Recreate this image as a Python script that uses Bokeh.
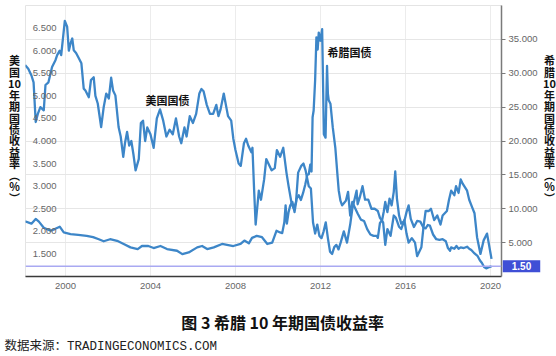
from bokeh.plotting import figure
from bokeh.models import (LinearAxis, Range1d, FixedTicker, NumeralTickFormatter,
                          Span, Label, Grid)
from bokeh.embed import file_html
from bokeh.resources import INLINE

# ---------------- data ----------------
us_t = [1998.10, 1998.25, 1998.40, 1998.50, 1998.60, 1998.70, 1998.82, 1998.98, 1999.06, 1999.20,
        1999.37, 1999.53, 1999.61, 1999.73, 1999.80, 1999.97, 2000.08, 2000.16, 2000.24, 2000.32,
        2000.39, 2000.50, 2000.63, 2000.75, 2000.86, 2000.94, 2001.10, 2001.20, 2001.33, 2001.41,
        2001.52, 2001.68, 2001.80, 2001.92, 2002.04, 2002.15, 2002.24, 2002.35, 2002.50, 2002.60,
        2002.72, 2002.80, 2002.90, 2003.00, 2003.10, 2003.20, 2003.30, 2003.45, 2003.55, 2003.65,
        2003.75, 2003.85, 2004.00, 2004.15, 2004.30, 2004.45, 2004.60, 2004.75, 2004.90, 2005.05,
        2005.20, 2005.35, 2005.45, 2005.60, 2005.70, 2005.85, 2006.00, 2006.15, 2006.30, 2006.40,
        2006.50, 2006.65, 2006.80, 2006.95, 2007.10, 2007.20, 2007.30, 2007.45, 2007.55, 2007.65,
        2007.80, 2007.90, 2008.00, 2008.15, 2008.25, 2008.40, 2008.50, 2008.60, 2008.75, 2008.80,
        2008.88, 2008.95, 2009.00, 2009.10, 2009.20, 2009.35, 2009.45, 2009.55, 2009.70, 2009.85,
        2009.95, 2010.10, 2010.25, 2010.40, 2010.50, 2010.65, 2010.75, 2010.85, 2010.95, 2011.10,
        2011.20, 2011.30, 2011.45, 2011.55, 2011.65, 2011.75, 2011.85, 2011.95, 2012.05, 2012.15,
        2012.25, 2012.35, 2012.45, 2012.55, 2012.65, 2012.75, 2012.85, 2012.95, 2013.10, 2013.25,
        2013.40, 2013.50, 2013.60, 2013.70, 2013.75, 2013.85, 2013.98, 2014.10, 2014.25, 2014.40,
        2014.55, 2014.70, 2014.80, 2014.95, 2015.05, 2015.15, 2015.30, 2015.45, 2015.55, 2015.70,
        2015.80, 2015.95, 2016.05, 2016.15, 2016.30, 2016.45, 2016.55, 2016.65, 2016.75, 2016.85,
        2016.95, 2017.10, 2017.20, 2017.35, 2017.50, 2017.65, 2017.75, 2017.85, 2017.95, 2018.05,
        2018.15, 2018.30, 2018.38, 2018.50, 2018.60, 2018.70, 2018.90, 2019.00, 2019.14, 2019.25,
        2019.37, 2019.53, 2019.68, 2019.84, 2020.05]
us_v = [5.68, 5.60, 5.45, 5.30, 4.42, 4.60, 4.75, 4.68, 5.24, 5.30,
        5.64, 5.79, 5.90, 6.00, 5.90, 6.66, 6.53, 6.00, 6.16, 6.27,
        6.01, 5.95, 5.83, 5.72, 5.16, 5.12, 4.97, 5.35, 5.41, 5.00,
        4.83, 4.31, 4.75, 5.05, 4.94, 5.40, 5.12, 5.01, 4.31, 4.10,
        3.65, 3.95, 4.20, 3.90, 4.00, 3.70, 3.35, 3.60, 4.40, 4.45,
        4.00, 4.30, 4.15, 3.85, 4.50, 4.70, 4.45, 4.10, 4.25, 4.15,
        4.50, 4.10, 3.95, 4.30, 4.10, 4.55, 4.40, 4.60, 5.05, 5.15,
        5.10, 4.80, 4.60, 4.60, 4.80, 4.55, 4.70, 5.05, 4.80, 4.55,
        4.45, 4.05, 3.80, 3.50, 3.45, 3.95, 4.05, 3.90, 3.75, 3.85,
        2.90, 2.15, 2.40, 2.90, 2.70, 3.15, 3.60, 3.50, 3.35, 3.40,
        3.80, 3.65, 3.85, 3.30, 3.00, 2.60, 2.50, 2.65, 3.30, 3.45,
        3.50, 3.35, 3.00, 2.95, 2.20, 1.95, 2.15, 1.90, 1.85, 2.00,
        2.20, 1.85, 1.55, 1.50, 1.65, 1.70, 1.60, 1.75, 2.00, 1.75,
        2.15, 2.50, 2.70, 2.90, 2.60, 2.75, 3.00, 2.70, 2.70, 2.50,
        2.50, 2.45, 2.30, 2.20, 1.70, 2.05, 1.90, 2.35, 2.30, 2.10,
        2.05, 2.25, 1.95, 1.75, 1.85, 1.75, 1.45, 1.55, 1.65, 2.10,
        2.45, 2.45, 2.50, 2.25, 2.35, 2.15, 2.35, 2.40, 2.45, 2.70,
        2.90, 2.80, 3.00, 2.85, 3.15, 3.05, 2.90, 2.70, 2.53, 2.40,
        1.87, 1.50, 1.80, 1.95, 1.39]

gr_t = [1998.10, 1998.40, 1998.60, 1998.75, 1998.98, 1999.30, 1999.50, 1999.73, 1999.92, 2000.24,
        2000.60, 2001.00, 2001.30, 2001.57, 2001.80, 2002.10, 2002.43, 2002.74, 2003.06, 2003.40,
        2003.60, 2003.90, 2004.15, 2004.47, 2004.78, 2005.25, 2005.50, 2005.80, 2006.20, 2006.43,
        2006.67, 2006.98, 2007.37, 2007.90, 2008.24, 2008.42, 2008.63, 2008.78, 2009.00, 2009.25,
        2009.50, 2009.73, 2009.93, 2010.10, 2010.20, 2010.30, 2010.36, 2010.42, 2010.50, 2010.58,
        2010.68, 2010.78, 2010.88, 2010.98, 2011.08, 2011.18, 2011.28, 2011.38, 2011.45, 2011.52,
        2011.58, 2011.63, 2011.68, 2011.75, 2011.81, 2011.87, 2011.92, 2012.00, 2012.08, 2012.12,
        2012.16, 2012.24, 2012.31, 2012.35, 2012.39, 2012.47, 2012.58, 2012.70, 2012.80, 2012.86,
        2012.94, 2013.02, 2013.10, 2013.20, 2013.30, 2013.40, 2013.50, 2013.60, 2013.75, 2013.90,
        2014.05, 2014.20, 2014.35, 2014.50, 2014.65, 2014.70, 2014.80, 2014.90, 2014.98, 2015.05,
        2015.15, 2015.25, 2015.35, 2015.45, 2015.52, 2015.60, 2015.70, 2015.80, 2015.95, 2016.05,
        2016.15, 2016.25, 2016.40, 2016.55, 2016.70, 2016.85, 2016.95, 2017.05, 2017.15, 2017.30,
        2017.45, 2017.60, 2017.75, 2017.90, 2018.00, 2018.10, 2018.15, 2018.30, 2018.40, 2018.50,
        2018.60, 2018.75, 2018.90, 2019.00, 2019.10, 2019.25, 2019.40, 2019.50, 2019.60, 2019.70,
        2019.80, 2019.90, 2020.00, 2020.05]
gr_v = [8.15, 7.80, 8.50, 8.10, 7.20, 6.75, 7.00, 7.35, 6.50, 6.26,
        6.15, 6.00, 5.80, 5.50, 5.20, 5.50, 5.27, 4.80, 4.30, 4.05,
        4.50, 4.50, 4.20, 4.50, 4.05, 3.80, 3.30, 3.55, 4.30, 4.50,
        4.05, 4.30, 4.80, 4.50, 4.80, 5.30, 4.90, 5.70, 6.00, 5.80,
        4.80, 5.00, 6.75, 6.50, 6.40, 8.00, 10.50, 7.80, 9.50, 10.50,
        11.00, 9.50, 11.50, 12.00, 11.30, 12.30, 13.50, 15.00, 15.10, 16.50,
        15.50, 23.50, 24.50, 29.00, 35.30, 33.50, 36.00, 34.80, 36.50, 29.00,
        21.00, 20.50, 31.10, 27.00, 26.00, 25.50, 22.00, 19.00, 15.00, 12.70,
        11.20, 10.50, 10.80, 11.20, 12.50, 9.00, 11.00, 10.30, 9.30, 8.40,
        8.20, 7.00, 6.20, 6.00, 6.00, 5.70, 7.90, 8.30, 9.60, 11.00,
        9.50, 11.50, 10.50, 12.50, 15.50, 11.50, 9.00, 7.80, 8.20, 9.50,
        10.50, 8.50, 7.30, 8.20, 8.10, 7.20, 7.10, 7.60, 7.50, 6.20,
        5.50, 5.40, 5.50, 5.20, 4.20, 3.80, 4.30, 4.10, 4.50, 4.10,
        4.30, 4.20, 4.40, 4.10, 3.90, 3.40, 3.00, 2.40, 2.00, 1.40,
        1.20, 1.35, 1.45, 1.50]

year_ticks = [2000, 2004, 2008, 2012, 2016, 2020]
us_ticks = [1.5, 2.0, 2.5, 3.0, 3.5, 4.0, 4.5, 5.0, 5.5, 6.0, 6.5]
gr_ticks = [5, 10, 15, 20, 25, 30, 35]
gr_last = 1.50
left_title = ["美", "国", "10", "年", "期", "国", "债", "收", "益", "率", "︵", "%", "︶"]
right_title = ["希", "腊", "10", "年", "期", "国", "债", "收", "益", "率", "︵", "%", "︶"]
us_name = "美国国债"
gr_name = "希腊国债"
caption = "图 3  希腊 10 年期国债收益率"
source = "数据来源：TRADINGECONOMICS.COM"

# ---------------- layout constants ----------------
W, H = 556, 356
FL, FT, FR, FB = 25, 5, 501, 276          # frame edges on the canvas
X0, X1 = 1998.12, 2020.52
Y0, Y1 = 1.0, 7.0
G0, G1 = 0.0, 40.0
BLUE = "#3d86c8"
TICK = "#666666"
CJK = "Noto Sans CJK SC"

def xd(px):   # canvas x -> year
    return X0 + (px - FL) * (X1 - X0) / (FR - FL)

def yus(py):  # canvas y -> left-axis value
    return Y0 + (FB - py) * (Y1 - Y0) / (FB - FT)

p = figure(width=W, height=H, x_range=Range1d(X0, X1), y_range=Range1d(Y0, Y1),
           output_backend="svg", toolbar_location=None,
           min_border_left=FL, min_border_right=W - FR, min_border_top=FT,
           min_border_bottom=H - FB)
p.extra_y_ranges = {"greek": Range1d(G0, G1)}
p.background_fill_color = "white"
p.border_fill_color = "white"
p.outline_line_color = "#e4e4e4"
p.outline_line_width = 1

# x axis
xa = p.xaxis[0]
xa.ticker = FixedTicker(ticks=year_ticks)
xa.axis_line_color = "#3a3a3a"
xa.axis_line_width = 1.6
xa.major_tick_line_color = None
xa.minor_tick_line_color = None
xa.major_tick_out = 0
xa.major_tick_in = 0
xa.major_label_standoff = 6
xa.major_label_text_font = "Liberation Sans"
xa.major_label_text_font_size = "9.5px"
xa.major_label_text_color = TICK

# left axis (US) - labels inside the frame
ya = p.yaxis[0]
ya.ticker = FixedTicker(ticks=us_ticks)
ya.formatter = NumeralTickFormatter(format="0.000")
ya.axis_line_color = None
ya.major_tick_line_color = None
ya.minor_tick_line_color = None
ya.major_tick_out = 0
ya.major_tick_in = 0
ya.major_label_standoff = -31
ya.major_label_text_font = "Liberation Sans"
ya.major_label_text_font_size = "9.5px"
ya.major_label_text_color = TICK

# right axis (Greece)
ra = LinearAxis(y_range_name="greek", ticker=FixedTicker(ticks=gr_ticks),
                formatter=NumeralTickFormatter(format="0.000"))
ra.axis_line_color = "#7a7a7a"
ra.axis_line_width = 1.5
ra.major_tick_line_color = "#7a7a7a"
ra.major_tick_out = 4
ra.major_tick_in = 0
ra.minor_tick_line_color = None
ra.major_label_standoff = 3
ra.major_label_text_font = "Liberation Sans"
ra.major_label_text_font_size = "9.5px"
ra.major_label_text_color = TICK
p.add_layout(ra, "right")

# grids
p.xgrid.ticker = FixedTicker(ticks=year_ticks)
p.xgrid.grid_line_color = "#ececec"
p.ygrid.visible = False
p.add_layout(Grid(dimension=1, ticker=FixedTicker(ticks=gr_ticks + [40]), y_range_name="greek",
                  grid_line_color="#e6e6e6"))

# series
p.line(us_t, us_v, line_color=BLUE, line_width=2.3, line_join="round")
p.line(gr_t, gr_v, line_color=BLUE, line_width=2.3, line_join="round", y_range_name="greek")

# last-value line and badge
p.add_layout(Span(location=gr_last, dimension="width", y_range_name="greek",
                  line_color="#a9a9f2", line_width=1.5))
p.add_layout(Label(x=xd(521), y=gr_last, y_range_name="greek",
                   text=f"{gr_last:.2f}", text_align="center", text_baseline="middle",
                   text_color="white", text_font="Liberation Sans", text_font_size="10px",
                   text_font_style="bold", background_fill_color="#3f4fd6",
                   padding=dict(left=9, right=9, top=2, bottom=2)), "below")

# in-plot series names
p.add_layout(Label(x=xd(167), y=yus(99), text=us_name,
                   text_align="center", text_baseline="middle", text_font=CJK,
                   text_font_size="11px", text_font_style="bold", text_color="#111111"))
p.add_layout(Label(x=xd(349), y=yus(51), text=gr_name,
                   text_align="center", text_baseline="middle", text_font=CJK,
                   text_font_size="11px", text_font_style="bold", text_color="#111111"))

# vertical axis titles (one character per line), in the side panels
for chars, cx, side in ((left_title, 14, "left"), (right_title, 549, "right")):
    p.add_layout(Label(x=xd(cx), y=yus(128.5), text="\n".join(chars),
                       text_align="center", text_baseline="middle",
                       text_line_height=0.714, text_font=CJK, text_font_size="11px",
                       text_font_style="bold", text_color="#111111"), side)

# caption and source, in the bottom panel
p.add_layout(Label(x=xd(284), y=yus(321), text=caption, text_align="center",
                   text_baseline="middle", text_font=CJK, text_font_size="16px",
                   text_font_style="bold", text_color="#111111"), "below")
p.add_layout(Label(x=xd(4), y=yus(346), text=source, text_align="left",
                   text_baseline="middle", text_font="'Liberation Mono', 'Noto Sans CJK SC'",
                   text_font_size="12.5px", text_color="#222222"), "below")

open("out.html", "w").write(file_html(p, INLINE))
